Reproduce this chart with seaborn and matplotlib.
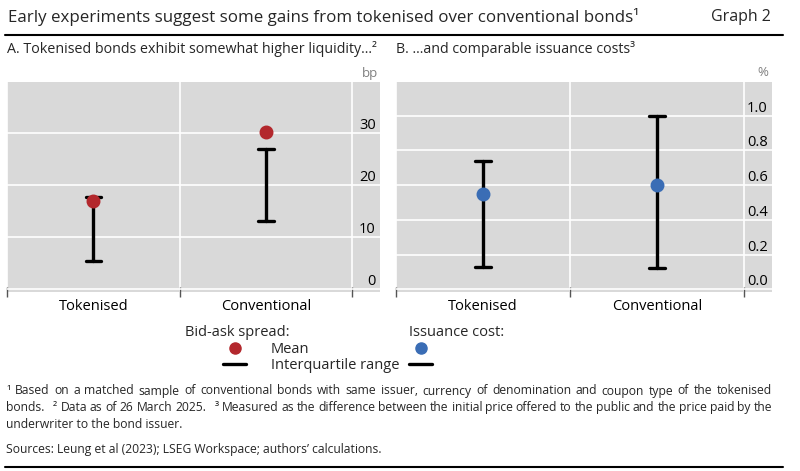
import re
import seaborn as sns
from matplotlib import pyplot as plt
from matplotlib.lines import Line2D
import pandas as pd

# categories on the x axis of both panels
categories = ["Tokenised", "Conventional"]

# Panel A: bid-ask spread (bp)
spread_mean = [17.0, 30.2]
spread_q1 = [5.3, 13.0]
spread_q3 = [17.6, 27.0]

# Panel B: issuance cost (%)
cost_mean = [0.55, 0.60]
cost_q1 = [0.13, 0.12]
cost_q3 = [0.74, 1.00]

spread_ticks = [0, 10, 20, 30]
cost_ticks = [0.0, 0.2, 0.4, 0.6, 0.8, 1.0]

RED = "#B3282D"
BLUE = "#3A6DB5"
BG = "#D9D9D9"

sns.set_theme(style="darkgrid", rc={"axes.facecolor": BG})
plt.rcParams["font.family"] = ["Open Sans", "DejaVu Sans"]

W, H = 800, 471
fig = plt.figure(figsize=(W / 100, H / 100), dpi=100)
fig.patch.set_facecolor("white")


def box(x0, y0, x1, y1):
    return [x0 / W, 1 - y1 / H, (x1 - x0) / W, (y1 - y0) / H]


def panel(ax, mean, q1, q3, color, ylim, ticks, labels):
    iqr = pd.DataFrame({"bond": categories * 2, "value": q1 + q3})
    means = pd.DataFrame({"bond": categories, "value": mean})
    sns.pointplot(data=iqr, x="bond", y="value", order=categories,
                  errorbar=lambda v: (v.min(), v.max()),
                  linestyle="none", marker="none", capsize=0.09,
                  err_kws={"color": "black", "linewidth": 2.4}, ax=ax)
    sns.pointplot(data=means, x="bond", y="value", order=categories,
                  errorbar=None, linestyle="none", marker="o",
                  markersize=8, color=color, ax=ax)
    ax.set_xlim(-0.5, 1.66)
    ax.set_ylim(*ylim)
    ax.set_xlabel("")
    ax.set_ylabel("")
    for s in ax.spines.values():
        s.set_visible(False)

    ax.set_xticks([0, 1], categories)
    ax.set_xticks([-0.5, 0.5, 1.5], minor=True)
    ax.tick_params(axis="x", which="major", length=0, pad=5, labelsize=10.5, labelcolor="black")
    ax.tick_params(axis="x", which="minor", bottom=True, direction="inout",
                   length=7, width=1, color="#555555")
    ax.grid(False)
    ax.grid(True, which="minor", axis="x", color="white", lw=1.2)
    ax.grid(True, which="major", axis="y", color="white", lw=1.2)

    ax.yaxis.tick_right()
    ax.set_yticks(ticks, labels)
    ax.tick_params(axis="y", length=0, pad=-3, labelsize=10.5, labelcolor="black")
    plt.setp(ax.get_yticklabels(), ha="right", va="bottom")


axA = fig.add_axes(box(7, 82, 380, 292))
axB = fig.add_axes(box(396, 82, 772, 292))

panel(axA, spread_mean, spread_q1, spread_q3, RED, (-0.6, 39.8),
      spread_ticks, [str(t) for t in spread_ticks])
panel(axB, cost_mean, cost_q1, cost_q3, BLUE, (-0.016, 1.195),
      cost_ticks, [f"{t:.1f}" for t in cost_ticks])


def ftext(x, y, s, **kw):
    return fig.text(x / W, 1 - y / H, s, **kw)


def width_of(t):
    return t.get_window_extent(fig.canvas.get_renderer()).width


def fit(t, width):
    # shrink a text so that it spans the given width in pixels
    t.set_fontsize(t.get_fontsize() * width / width_of(t))
    return t.get_fontsize()


def justify(line, y, size, x0, x1):
    # lay the words of a line out so that it fills x0..x1
    parts = re.split(r"( +)", line)
    words = parts[0::2]
    gaps = [len(g) for g in parts[1::2]]
    texts = [ftext(x0, y, w, fontsize=size, va="center") for w in words]
    widths = [width_of(t) for t in texts]
    free = (x1 - x0) - sum(widths)
    x = x0
    for i, t in enumerate(texts):
        t.set_x(x / W)
        x += widths[i]
        if i < len(gaps):
            x += free * gaps[i] / sum(gaps)


# header
title = ftext(8, 17, "Early experiments suggest some gains from tokenised over conventional bonds¹",
              fontsize=14, va="center")
fit(title, 630)
ftext(771, 17, "Graph 2", fontsize=11.5, va="center", ha="right")
fig.add_artist(Line2D([5 / W, 783 / W], [1 - 35 / H, 1 - 35 / H], color="black", lw=1.5))
ta = ftext(7, 49, "A. Tokenised bonds exhibit somewhat higher liquidity...²", fontsize=11, va="center")
fit(ta, 370)
ftext(396, 49, "B. ...and comparable issuance costs³", fontsize=ta.get_fontsize(), va="center")
ftext(378, 73, "bp", fontsize=9.5, va="center", ha="right", color="#808080")
ftext(768, 73, "%", fontsize=9.5, va="center", ha="right", color="#808080")

# legends
ftext(185, 332, "Bid-ask spread:", fontsize=10.5, va="center")
ftext(409, 332, "Issuance cost:", fontsize=10.5, va="center")
handlesA = [Line2D([], [], marker="o", color=RED, linestyle="none", markersize=8),
            Line2D([], [], color="black", lw=2.4)]
handlesB = [Line2D([], [], marker="o", color=BLUE, linestyle="none", markersize=8),
            Line2D([], [], color="black", lw=2.4)]
fig.legend(handles=handlesA, labels=["Mean", "Interquartile range"], loc="upper left",
           bbox_to_anchor=(223 / W, 1 - 342 / H), frameon=False, fontsize=10.5,
           handlelength=1.6, handletextpad=1.7, labelspacing=0.05,
           borderpad=0, borderaxespad=0)
fig.legend(handles=handlesB, labels=["", ""], loc="upper left",
           bbox_to_anchor=(409 / W, 1 - 342 / H), frameon=False, fontsize=10.5,
           handlelength=1.6, handletextpad=0.5, labelspacing=0.05,
           borderpad=0, borderaxespad=0)

# footnotes
notes = [
    "¹ Based on a matched sample of conventional bonds with same issuer, currency of denomination and coupon type of the tokenised",
    "bonds.   ² Data as of 26 March 2025.   ³ Measured as the difference between the initial price offered to the public and the price paid by the",
    "underwriter to the bond issuer.",
]
probe = ftext(6, 391, notes[1].replace("   ", "  "), fontsize=10, va="center")
size = fit(probe, 766)
probe.remove()
justify(notes[0], 391, size, 6, 772)
justify(notes[1], 407.5, size, 6, 772)
ftext(6, 424, notes[2], fontsize=size, va="center")
ftext(6, 450, "Sources: Leung et al (2023); LSEG Workspace; authors’ calculations.",
      fontsize=size, va="center")
fig.add_artist(Line2D([5 / W, 783 / W], [1 - 467 / H, 1 - 467 / H], color="black", lw=1.5))

fig.savefig("out.png", dpi=100)
